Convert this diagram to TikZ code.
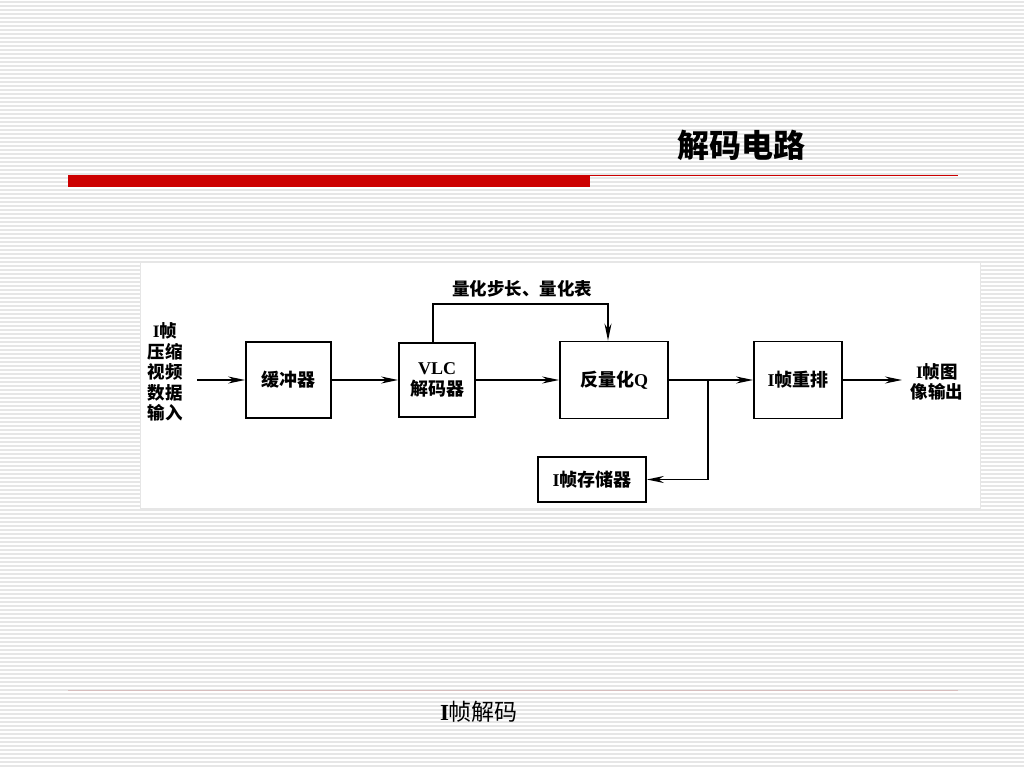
\documentclass[tikz,border=0pt]{standalone}
\usepackage{fontspec}
\setmainfont{Liberation Serif}
\newfontfamily\cjk{Noto Sans CJK SC}
\usetikzlibrary{arrows.meta}
\definecolor{barred}{RGB}{204,0,0}
\definecolor{stripe}{RGB}{230,230,230}
\definecolor{footline}{RGB}{215,190,190}
\tikzset{
  blk/.style={draw=black, line width=1.8pt, fill=white, align=center, inner sep=2pt,
    font=\fontsize{18}{22}\selectfont\bfseries},
  lbl/.style={align=center, font=\fontsize{17.5}{20.5}\selectfont\bfseries, inner sep=0pt},
  conn/.style={draw=black, line width=1.5pt},
  arr/.style={conn, -{Stealth[length=17pt,width=7pt]}}
}
\begin{document}
\begin{tikzpicture}[x=1pt,y=-1pt]
\useasboundingbox (0,0) rectangle (1024,768);
\fill[white] (0,0) rectangle (1024,768);
\foreach \y in {2,6,...,766} \draw[stripe, line width=1.5pt] (0,\y) -- (1024,\y);
% title
\node[font=\fontsize{32}{34}\selectfont\cjk\bfseries, inner sep=0pt] (title) at (741,145) {解码电路};
\fill[barred] (68,175) rectangle (590,187);
\fill[barred] (590,174.6) rectangle (958,176.2);
% footer
\draw[footline, line width=1pt] (68,690) -- (958,690);
\node[font=\fontsize{23}{24}\selectfont, inner sep=0pt] (foot) at (479,712) {\textbf{I}{\cjk 帧解码}};
% diagram panel
\fill[white] (140,262) rectangle (980,508);
\draw[stripe, line width=0.8pt] (140,262) rectangle (980,508);
% blocks
\node[blk, minimum width=85pt, minimum height=76pt] (buf) at (288.5,380) {\cjk 缓冲器};
\node[blk, minimum width=76pt, minimum height=74pt] (vlc) at (437,380) {VLC\\[-1pt]{\cjk 解码器}};
\node[blk, minimum width=108pt, minimum height=77pt] (deq) at (614,380) {{\cjk 反量化}Q};
\node[blk, minimum width=88pt, minimum height=77pt] (rep) at (798,380) {I{\cjk 帧重排}};
\node[blk, minimum width=108pt, minimum height=45pt] (mem) at (592,479.5) {I{\cjk 帧存储器}};
% texts
\node[lbl] (in) at (165,372) {I{\cjk 帧}\\{\cjk 压缩}\\{\cjk 视频}\\{\cjk 数据}\\{\cjk 输入}};
\node[lbl] (out) at (937,382) {I{\cjk 帧图}\\{\cjk 像输出}};
\node[lbl] (q) at (522,289) {\cjk 量化步长、量化表};
% connectors
\coordinate (src) at (197,380);
\coordinate (dst) at (902,380);
\coordinate (fb) at (608,304);
\coordinate (j) at (708,380);
\draw[arr] (src) -- (buf.west);
\draw[arr] (buf.east) -- (vlc.west);
\draw[arr] (vlc.east) -- (deq.west);
\draw[arr] ([xshift=-4pt]vlc.north) |- (fb) -- (fb |- deq.north);
\draw[conn] (deq.east) -- (j);
\draw[arr] (j) -- (rep.west);
\draw[arr] (j) |- (mem.east);
\draw[arr] (rep.east) -- (dst);
\end{tikzpicture}
\end{document}
